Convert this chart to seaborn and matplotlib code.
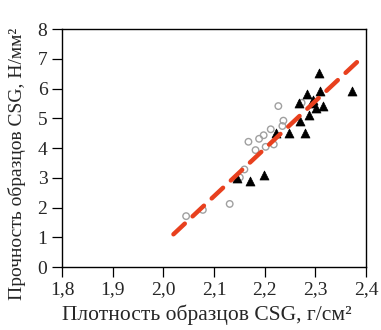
import matplotlib
matplotlib.use("Agg")
import matplotlib.pyplot as plt
import seaborn as sns
import pandas as pd

# open circles (series 1)
circ_x = [2.045, 2.078, 2.131, 2.151, 2.160, 2.168, 2.182, 2.189, 2.198, 2.202,
          2.212, 2.218, 2.227, 2.235, 2.237, 2.273]
circ_y = [1.71, 1.92, 2.12, 3.01, 3.28, 4.21, 3.93, 4.31, 4.43, 4.04,
          4.63, 4.12, 5.41, 4.74, 4.92, 5.52]
# filled triangles (series 2)
tri_x = [2.308, 2.372, 2.283, 2.310, 2.267, 2.296, 2.301, 2.316, 2.288, 2.269,
         2.223, 2.248, 2.279, 2.146, 2.171, 2.198, 2.293]
tri_y = [6.51, 5.93, 5.82, 5.93, 5.50, 5.61, 5.33, 5.41, 5.11, 4.92,
         4.49, 4.49, 4.49, 2.98, 2.90, 3.10, 5.50]
# fitted line
fit_x = [2.02, 2.388]
fit_y = [1.10, 6.98]

xticks = [1.8, 1.9, 2.0, 2.1, 2.2, 2.3, 2.4]
xtick_labels = ["1,8", "1,9", "2,0", "2,1", "2,2", "2,3", "2,4"]
yticks = [0, 1, 2, 3, 4, 5, 6, 7, 8]

sns.set_style("ticks")
plt.rcParams['font.family'] = ['Liberation Serif', 'DejaVu Serif']

fig = plt.figure(figsize=(3.81, 3.30), dpi=100)
ax = fig.add_axes([0.1627, 0.1909, 0.7979, 0.7211])

df_c = pd.DataFrame({"x": circ_x, "y": circ_y})
df_t = pd.DataFrame({"x": tri_x, "y": tri_y})
df_f = pd.DataFrame({"x": fit_x, "y": fit_y})

sns.scatterplot(data=df_c, x="x", y="y", ax=ax, marker="o", s=22,
                facecolor="none", edgecolor="#a0a0a0", linewidth=1.0, zorder=3)
sns.scatterplot(data=df_t, x="x", y="y", ax=ax, marker="^", s=42,
                color="black", edgecolor="black", linewidth=0.5, zorder=4)
sns.lineplot(data=df_f, x="x", y="y", ax=ax, color="#e8401e", linewidth=3.2,
             dashes=False, zorder=5)
line = ax.lines[-1]
line.set_dashes([3.5, 2.4])
line.set_dash_capstyle("round")

ax.set_xlim(1.8, 2.4)
ax.set_ylim(0, 8)
ax.set_xticks(xticks)
ax.set_xticklabels(xtick_labels)
ax.set_yticks(yticks)
for s in ax.spines.values():
    s.set_visible(True)
    s.set_color("black")
    s.set_linewidth(1.0)
ax.tick_params(axis="both", direction="out", length=7.5, width=0.9,
               labelsize=14, color="black", pad=3)
ax.set_xlabel("Плотность образцов CSG, г/см²", fontsize=15.5)
ax.set_ylabel("Прочность образцов CSG, Н/мм²", fontsize=14)
ax.xaxis.set_label_coords(0.478, -0.158)
ax.yaxis.set_label_coords(-0.12, 0.435)

fig.savefig("out.png", dpi=100)
